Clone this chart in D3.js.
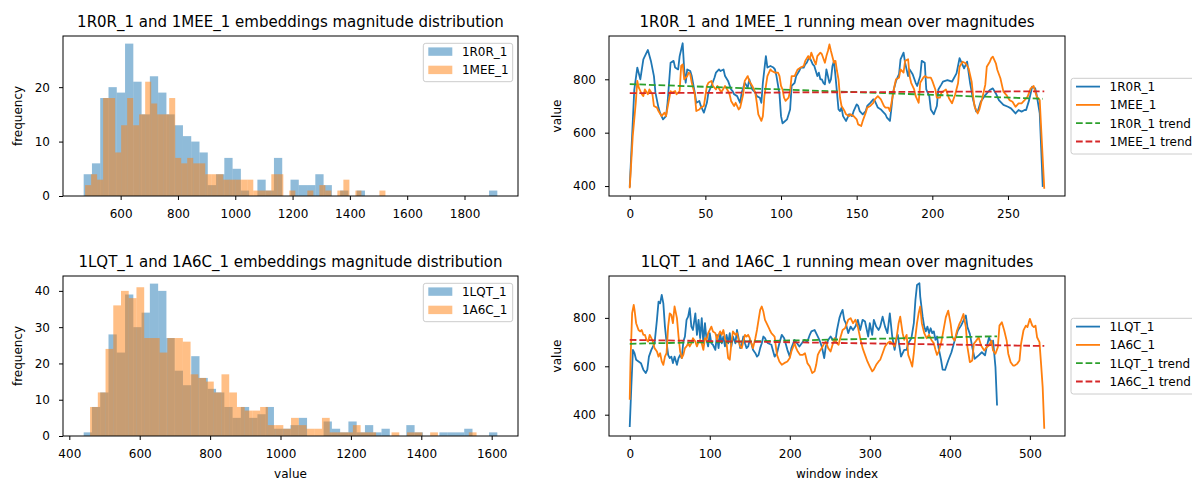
<!DOCTYPE html>
<html>
<head>
<meta charset="utf-8">
<script src="https://cdn.jsdelivr.net/npm/d3@7"></script>
<style>
  body { margin: 0; background: #fff; }
  svg { display: block; font-family: "DejaVu Sans", sans-serif; }
</style>
</head>
<body>
<svg id="fig" width="1192" height="479"></svg>
<script>
// ---------- histogram data: 50 equal bins per chain, spanning [min, max] ----------
const r0rRange = [471, 1914.5];
const r0rCounts = [4,6,18,20,19,28,21,15,22,19, 15,13,11,10,8,2,4,7,5,1, 0,3,1,7,0,3,2,2,4,2, 0,1,0,1,0,0,0,0,0,0, 0,0,0,0,0,0,0,0,0,1];
const meeRange = [476, 1524];
const meeCounts = [2,4,3,18,18,8,13,18,13,15, 21,17,15,15,18,7,6,7,6,6, 4,4,4,3,3,3,3,3,1,1, 1,4,4,0,1,0,0,1,0,2, 1,0,1,3,0,1,0,0,0,1];

const lqtRange = [440.8, 1616];
const lqtCounts = [1,8,12,28,23,39,30,34,42,40, 27,18,14,22,16,13,12,8,5,8, 5,6,8,2,2,3,5,0,0,4, 2,1,4,1,3,1,2,0,0,3, 1,0,0,1,1,1,2,0,0,1];
const a6cRange = [459, 1557];
const a6cCounts = [8,12,24,36,40,38,41,27,27,23, 27,27,26,17,16,15,12,17,12,8, 7,7,8,3,3,2,5,3,2,2, 5,1,1,1,3,1,1,0,0,1, 0,1,1,0,1,0,0,0,0,1];

// ---------- running means: [window index, mean magnitude] ----------
const r0rMean = [[0,397],[3,760],[5,844],[7,800],[9,875],[12,910],[14,869],[16,812],[17,750],[19,694],[20,675],[22,650],[24,662],[25,712],[27,862],[29,869],[30,844],[32,837],[33,887],[35,935],[36,837],[37,787],[38,837],[40,831],[41,812],[43,750],[44,712],[46,719],[47,700],[49,675],[51,712],[52,750],[54,775],[56,806],[57,825],[59,837],[60,831],[62,837],[63,812],[65,794],[67,762],[68,756],[69,744],[71,737],[73,712],[74,750],[76,787],[78,769],[79,800],[81,762],[83,750],[84,737],[86,731],[87,712],[88,787],[90,887],[91,844],[93,850],[95,844],[96,837],[97,812],[99,744],[100,662],[101,635],[102,640],[104,650],[106,687],[107,775],[109,787],[110,812],[112,831],[113,844],[115,844],[116,856],[117,862],[118,875],[119,881],[121,856],[122,850],[123,831],[124,812],[125,825],[126,800],[127,800],[128,787],[129,781],[130,837],[132,787],[133,800],[134,850],[135,869],[136,812],[137,750],[138,687],[139,681],[140,694],[141,662],[143,644],[144,656],[145,669],[147,662],[148,681],[150,706],[151,700],[152,681],[154,669],[156,681],[157,700],[159,712],[161,725],[162,719],[164,694],[166,687],[167,681],[169,669],[170,656],[172,644],[173,694],[174,750],[176,794],[178,819],[179,875],[181,900],[182,862],[184,812],[185,837],[187,819],[189,787],[190,775],[192,812],[193,869],[195,862],[196,762],[198,737],[199,687],[201,669],[203,700],[204,762],[206,781],[207,791],[210,797],[213,791],[216,822],[218,879],[221,841],[223,866],[225,785],[227,722],[229,679],[230,679],[232,716],[235,741],[238,760],[240,766],[242,747],[244,722],[247,704],[250,697],[252,691],[255,672],[257,685],[259,679],[261,685],[262,685],[264,722],[266,772],[268,766],[269,741],[271,672],[272,535],[273,397]];
const meeMean = [[0,392],[2,587],[4,712],[5,794],[6,769],[8,744],[9,737],[10,762],[12,744],[13,762],[15,744],[16,700],[18,694],[19,681],[21,662],[23,675],[24,662],[25,694],[27,756],[28,750],[30,756],[31,744],[33,756],[34,850],[35,856],[36,800],[38,812],[39,825],[40,819],[41,787],[43,744],[44,681],[46,687],[47,694],[49,700],[51,775],[52,787],[54,794],[55,775],[57,762],[58,775],[60,756],[61,756],[63,775],[65,756],[66,744],[67,719],[69,700],[70,712],[72,687],[73,694],[75,744],[76,794],[78,812],[79,794],[81,775],[83,750],[84,712],[85,669],[87,644],[88,662],[89,737],[91,812],[93,837],[94,831],[96,825],[98,825],[99,812],[100,775],[101,762],[102,731],[103,719],[105,731],[106,756],[107,812],[109,812],[110,825],[111,837],[113,844],[115,850],[116,869],[118,887],[119,875],[120,900],[122,869],[123,856],[124,887],[126,900],[127,894],[129,862],[130,887],[131,906],[132,931],[133,906],[135,862],[136,869],[137,831],[138,800],[139,731],[140,700],[142,681],[143,669],[145,662],[146,669],[148,662],[150,650],[151,631],[153,625],[154,644],[156,675],[157,694],[159,700],[161,712],[162,725],[164,737],[166,725],[168,700],[169,694],[171,694],[172,681],[173,712],[175,775],[176,800],[178,806],[179,837],[181,825],[182,869],[184,875],[185,812],[186,787],[188,762],[189,737],[191,712],[192,787],[194,806],[195,812],[197,806],[199,806],[200,794],[202,762],[203,731],[205,731],[206,750],[209,762],[211,729],[213,710],[215,741],[217,785],[218,847],[220,866],[222,860],[224,841],[226,791],[227,735],[228,697],[230,672],[231,685],[233,729],[235,779],[236,847],[238,866],[239,879],[240,885],[242,860],[243,835],[245,804],[247,754],[249,741],[251,722],[253,716],[255,697],[257,710],[259,710],[261,722],[263,735],[265,766],[267,775],[268,754],[269,735],[271,722],[272,610],[274,390]];
const r0rTrend = [[0,782],[273,727]];
const meeTrend = [[0,748],[274,755]];

const lqtMean = [[0,349],[2,517],[4,668],[6,654],[8,627],[11,620],[14,613],[17,586],[20,572],[22,586],[24,640],[27,668],[31,695],[34,792],[36,867],[38,860],[40,895],[42,860],[44,764],[46,702],[48,647],[50,634],[52,640],[54,613],[56,640],[59,606],[61,634],[63,647],[65,634],[67,702],[69,723],[71,792],[73,805],[75,840],[77,764],[79,750],[82,819],[84,730],[86,792],[88,716],[90,799],[92,695],[94,778],[96,709],[98,682],[100,737],[102,695],[104,689],[107,668],[109,730],[111,675],[113,737],[115,695],[117,723],[119,682],[121,730],[123,695],[125,737],[127,682],[129,723],[132,695],[134,750],[136,716],[138,675],[140,689],[142,723],[144,695],[146,675],[148,682],[150,709],[152,695],[154,668],[157,654],[159,640],[161,647],[163,675],[165,695],[167,723],[169,716],[171,702],[173,695],[177,689],[181,640],[184,654],[187,695],[190,730],[193,716],[197,668],[200,640],[202,675],[206,709],[209,695],[212,682],[215,695],[218,709],[222,702],[225,730],[227,744],[231,750],[234,730],[237,709],[240,682],[243,634],[245,682],[248,709],[251,723],[254,709],[257,702],[259,750],[262,799],[264,819],[266,833],[268,792],[270,778],[273,737],[276,764],[279,750],[282,764],[285,792],[288,750],[291,792],[294,785],[298,723],[300,778],[303,730],[305,792],[308,764],[311,750],[313,764],[316,805],[319,764],[322,737],[325,819],[328,723],[331,668],[333,709],[335,730],[337,682],[339,640],[343,668],[346,668],[348,695],[352,716],[355,778],[357,874],[359,936],[362,943],[363,888],[366,805],[368,764],[370,744],[372,764],[374,737],[376,757],[378,737],[380,744],[382,709],[384,723],[386,675],[389,627],[391,586],[394,585],[398,624],[402,658],[406,706],[410,748],[414,768],[417,789],[420,810],[422,762],[425,734],[428,679],[431,631],[436,645],[440,658],[444,645],[446,679],[449,720],[452,693],[454,706],[457,597],[459,438]];
const a6cMean = [[0,462],[1,627],[3,819],[5,854],[6,833],[8,778],[11,750],[13,744],[15,750],[17,730],[19,730],[21,709],[23,702],[25,730],[27,716],[29,702],[31,675],[34,661],[36,640],[38,654],[40,620],[42,606],[44,640],[46,654],[48,764],[50,819],[52,812],[54,778],[56,847],[59,799],[61,723],[63,661],[65,634],[67,647],[69,675],[71,682],[73,695],[75,682],[77,695],[79,716],[82,702],[84,682],[86,702],[88,709],[90,695],[92,668],[94,716],[96,709],[98,737],[100,750],[102,764],[104,744],[107,737],[109,709],[111,730],[113,744],[115,730],[117,750],[119,716],[121,695],[123,634],[125,627],[127,695],[129,744],[132,730],[134,737],[136,709],[138,682],[140,675],[142,702],[144,730],[146,723],[148,730],[150,716],[152,695],[154,675],[157,716],[159,750],[161,792],[163,833],[165,847],[167,826],[169,792],[171,778],[175,750],[177,737],[181,723],[184,647],[187,620],[190,606],[193,613],[197,620],[200,634],[202,661],[206,695],[208,675],[210,661],[213,647],[216,647],[219,654],[222,613],[225,599],[228,572],[231,579],[233,606],[235,647],[237,661],[240,675],[243,695],[245,702],[248,675],[251,661],[254,695],[256,716],[259,695],[261,689],[263,716],[266,750],[269,757],[273,792],[276,799],[279,778],[282,792],[285,764],[288,716],[291,675],[294,647],[297,620],[300,599],[303,579],[305,586],[308,606],[311,620],[313,627],[316,654],[319,682],[322,695],[325,702],[328,695],[331,682],[334,730],[336,778],[338,805],[341,737],[343,709],[346,730],[348,647],[351,620],[353,599],[355,654],[357,723],[359,778],[361,819],[363,847],[365,778],[368,737],[371,716],[374,730],[377,709],[380,695],[382,668],[384,647],[386,661],[389,695],[391,730],[395,803],[398,830],[401,775],[403,720],[406,706],[409,748],[412,775],[414,789],[417,816],[420,762],[422,679],[425,617],[428,624],[430,693],[433,706],[436,720],[439,686],[443,665],[446,679],[449,686],[452,706],[454,665],[457,652],[460,679],[462,768],[465,782],[468,748],[471,706],[473,652],[476,617],[479,603],[481,603],[484,610],[487,624],[489,693],[492,748],[495,768],[497,762],[500,796],[503,768],[505,762],[507,768],[509,720],[512,700],[514,610],[516,514],[518,342]];
const lqtTrend = [[0,693],[459,724]];
const a6cTrend = [[0,709],[518,684]];

// ---------- tick values ----------
const histTopTicksX = [600, 800, 1000, 1200, 1400, 1600, 1800];
const histTopTicksY = [0, 10, 20];
const histBotTicksX = [400, 600, 800, 1000, 1200, 1400, 1600];
const histBotTicksY = [0, 10, 20, 30, 40];
const meanTopTicksX = [0, 50, 100, 150, 200, 250];
const meanBotTicksX = [0, 100, 200, 300, 400, 500];
const meanTicksY = [400, 600, 800];

// ---------- drawing ----------
const svg = d3.select('#fig');
svg.append('rect').attr('width', 1192).attr('height', 479).attr('fill', '#fff');

const COL = { blue: '#1f77b4', orange: '#ff7f0e', green: '#2ca02c', red: '#d62728' };
const FS = 12, TITLE_FS = 15;

const boxes = {
  tl: { l: 63, r: 518, t: 36, b: 196 },
  tr: { l: 609, r: 1065, t: 36, b: 196 },
  bl: { l: 63, r: 518, t: 276, b: 436 },
  br: { l: 609, r: 1065, t: 276, b: 436 }
};

function padded(lo, hi) {
  const m = (hi - lo) * 0.05;
  return [lo - m, hi + m];
}

function drawAxes(box, x, y, ticksX, ticksY) {
  const gx = svg.append('g').attr('transform', `translate(0,${box.b})`)
    .call(d3.axisBottom(x).tickValues(ticksX).tickSize(4).tickPadding(9).tickFormat(d3.format('d')));
  const gy = svg.append('g').attr('transform', `translate(${box.l},0)`)
    .call(d3.axisLeft(y).tickValues(ticksY).tickSize(4).tickPadding(9).tickFormat(d3.format('d')));
  [gx, gy].forEach(g => {
    g.select('.domain').remove();
    g.selectAll('.tick line').attr('stroke', '#000').attr('stroke-width', 1);
    g.selectAll('.tick text').attr('fill', '#000').style('font-size', FS + 'px')
      .style('font-family', '"DejaVu Sans", sans-serif');
  });
  svg.append('rect').attr('x', box.l).attr('y', box.t)
    .attr('width', box.r - box.l).attr('height', box.b - box.t)
    .attr('fill', 'none').attr('stroke', '#000').attr('stroke-width', 1);
}

function title(box, text) {
  svg.append('text').attr('x', (box.l + box.r) / 2).attr('y', box.t - 9.5)
    .attr('text-anchor', 'middle').style('font-size', TITLE_FS + 'px').attr('fill', '#000').text(text);
}

function yLabel(xPos, box, text) {
  svg.append('text').attr('transform', `translate(${xPos},${(box.t + box.b) / 2}) rotate(-90)`)
    .attr('text-anchor', 'middle').style('font-size', FS + 'px').attr('fill', '#000').text(text);
}

function xLabel(box, text) {
  svg.append('text').attr('x', (box.l + box.r) / 2).attr('y', 477.5)
    .attr('text-anchor', 'middle').style('font-size', FS + 'px').attr('fill', '#000').text(text);
}

function legend(x0, y0, w, h, items) {
  const g = svg.append('g');
  g.append('rect').attr('x', x0).attr('y', y0).attr('width', w).attr('height', h)
    .attr('rx', 2.5).attr('fill', '#fff').attr('fill-opacity', 0.8)
    .attr('stroke', '#cccccc').attr('stroke-width', 1);
  items.forEach((it, i) => {
    const cy = y0 + 8.3 + i * 18.3;
    const hx = x0 + 5;
    if (it.kind === 'patch') {
      g.append('rect').attr('x', hx).attr('y', cy - 4.2).attr('width', 24).attr('height', 8.4)
        .attr('fill', it.color).attr('fill-opacity', 0.5);
    } else {
      g.append('line').attr('x1', hx).attr('x2', hx + 24).attr('y1', cy).attr('y2', cy)
        .attr('stroke', it.color).attr('stroke-width', 1.8)
        .attr('stroke-dasharray', it.kind === 'dash' ? '6.7,2.9' : null);
    }
    g.append('text').attr('x', hx + 33.6).attr('y', cy + 4.3)
      .style('font-size', FS + 'px').attr('fill', '#000').text(it.label);
  });
}

function histogram(box, seriesList, ticksX, ticksY) {
  const lo = d3.min(seriesList, s => s.range[0]);
  const hi = d3.max(seriesList, s => s.range[1]);
  const x = d3.scaleLinear().domain(padded(lo, hi)).range([box.l, box.r]);
  const ymax = d3.max(seriesList, s => d3.max(s.counts));
  const y = d3.scaleLinear().domain([0, ymax * 1.05]).range([box.b, box.t]);
  seriesList.forEach(s => {
    const n = s.counts.length;
    const step = (s.range[1] - s.range[0]) / n;
    const bins = s.counts.map((c, i) => ({ x0: s.range[0] + i * step, x1: s.range[0] + (i + 1) * step, c }))
      .filter(b => b.c > 0);
    svg.append('g').selectAll('rect').data(bins).join('rect')
      .attr('x', b => x(b.x0)).attr('width', b => x(b.x1) - x(b.x0))
      .attr('y', b => y(b.c)).attr('height', b => y(0) - y(b.c))
      .attr('fill', s.color).attr('fill-opacity', 0.5);
  });
  drawAxes(box, x, y, ticksX, ticksY);
}

function meanChart(box, lines, trends, ticksX, ticksY) {
  const all = lines.concat(trends).flatMap(s => s.data);
  const x = d3.scaleLinear().domain(padded(0, d3.max(all, d => d[0]))).range([box.l, box.r]);
  const y = d3.scaleLinear().domain(padded(d3.min(all, d => d[1]), d3.max(all, d => d[1]))).range([box.b, box.t]);
  const path = d3.line().x(d => x(d[0])).y(d => y(d[1]));
  lines.forEach(s => {
    svg.append('path').attr('d', path(s.data)).attr('fill', 'none')
      .attr('stroke', s.color).attr('stroke-width', 1.8).attr('stroke-linejoin', 'round');
  });
  trends.forEach(s => {
    svg.append('path').attr('d', path(s.data)).attr('fill', 'none')
      .attr('stroke', s.color).attr('stroke-width', 1.8).attr('stroke-dasharray', '6.7,2.9');
  });
  drawAxes(box, x, y, ticksX, ticksY);
}

// top row
histogram(boxes.tl, [
  { counts: r0rCounts, range: r0rRange, color: COL.blue },
  { counts: meeCounts, range: meeRange, color: COL.orange }
], histTopTicksX, histTopTicksY);
title(boxes.tl, '1R0R_1 and 1MEE_1 embeddings magnitude distribution');
yLabel(22, boxes.tl, 'frequency');
legend(423.3, 43.3, 89.4, 38.4, [
  { label: '1R0R_1', kind: 'patch', color: COL.blue },
  { label: '1MEE_1', kind: 'patch', color: COL.orange }
]);

meanChart(boxes.tr, [
  { data: r0rMean, color: COL.blue },
  { data: meeMean, color: COL.orange }
], [
  { data: r0rTrend, color: COL.green },
  { data: meeTrend, color: COL.red }
], meanTopTicksX, meanTicksY);
title(boxes.tr, '1R0R_1 and 1MEE_1 running mean over magnitudes');
yLabel(561, boxes.tr, 'value');
legend(1071, 78.3, 140, 75.7, [
  { label: '1R0R_1', kind: 'line', color: COL.blue },
  { label: '1MEE_1', kind: 'line', color: COL.orange },
  { label: '1R0R_1 trend', kind: 'dash', color: COL.green },
  { label: '1MEE_1 trend', kind: 'dash', color: COL.red }
]);

// bottom row
histogram(boxes.bl, [
  { counts: lqtCounts, range: lqtRange, color: COL.blue },
  { counts: a6cCounts, range: a6cRange, color: COL.orange }
], histBotTicksX, histBotTicksY);
title(boxes.bl, '1LQT_1 and 1A6C_1 embeddings magnitude distribution');
yLabel(22, boxes.bl, 'frequency');
xLabel(boxes.bl, 'value');
legend(423.3, 283.3, 89.4, 38.4, [
  { label: '1LQT_1', kind: 'patch', color: COL.blue },
  { label: '1A6C_1', kind: 'patch', color: COL.orange }
]);

meanChart(boxes.br, [
  { data: lqtMean, color: COL.blue },
  { data: a6cMean, color: COL.orange }
], [
  { data: lqtTrend, color: COL.green },
  { data: a6cTrend, color: COL.red }
], meanBotTicksX, meanTicksY);
title(boxes.br, '1LQT_1 and 1A6C_1 running mean over magnitudes');
yLabel(561, boxes.br, 'value');
xLabel(boxes.br, 'window index');
legend(1071, 318.3, 140, 75.7, [
  { label: '1LQT_1', kind: 'line', color: COL.blue },
  { label: '1A6C_1', kind: 'line', color: COL.orange },
  { label: '1LQT_1 trend', kind: 'dash', color: COL.green },
  { label: '1A6C_1 trend', kind: 'dash', color: COL.red }
]);
</script>
</body>
</html>
